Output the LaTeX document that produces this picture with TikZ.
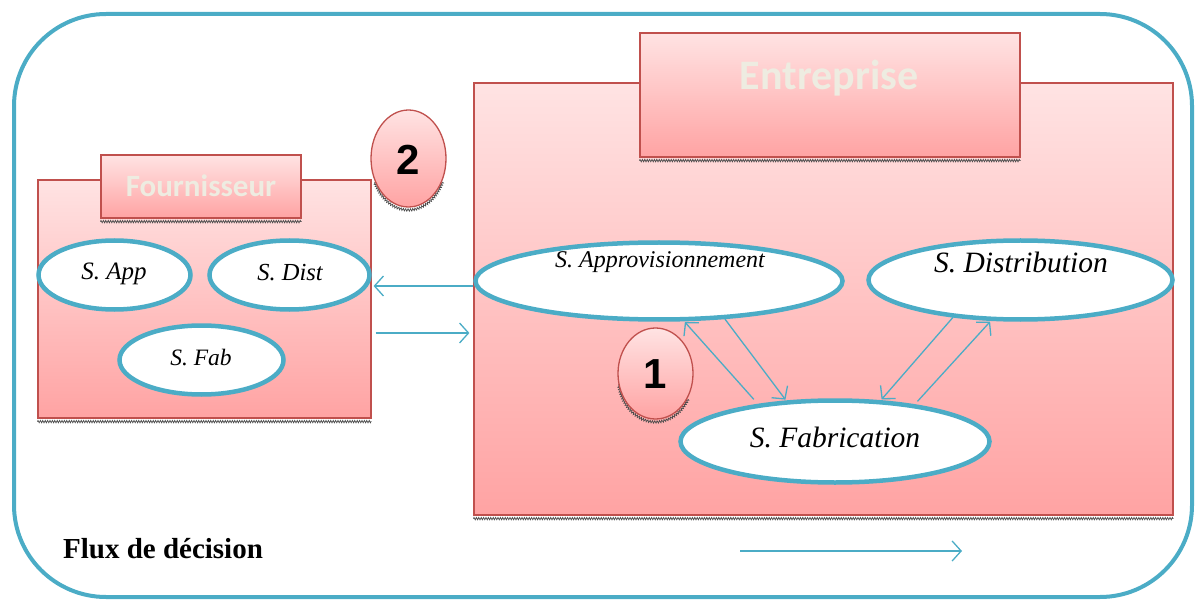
\documentclass[tikz,border=0pt]{standalone}
\usepackage{fontspec}
\setmainfont{Liberation Serif}
\newfontfamily\titlefont{Carlito}
\newfontfamily\numfont{Liberation Sans}
\usetikzlibrary{arrows.meta,decorations.pathmorphing,shapes.geometric}

\definecolor{flowblue}{HTML}{4BACC6}
\definecolor{boxred}{HTML}{C0504D}
\definecolor{pinktop}{HTML}{FFE3E3}
\definecolor{pinkbot}{HTML}{FFA3A3}
\definecolor{titletext}{HTML}{EEECE1}

\tikzset{
  panel/.style={rectangle, draw=boxred, line width=1.2pt, top color=pinktop,
    bottom color=pinkbot, inner sep=0pt},
  service/.style={ellipse, draw=flowblue, line width=4.5pt, fill=white, inner sep=0pt},
  badge/.style={ellipse, draw=boxred, line width=1.3pt, top color=pinktop,
    bottom color=pinkbot, inner sep=0pt},
  flow/.style={draw=flowblue, line width=1.3pt,
    -{Straight Barb[length=9pt,width=20pt,line width=1.3pt]}},
  hatch/.style={draw=gray!60!black, line width=0.7pt, decorate,
    decoration={zigzag, amplitude=1.2pt, segment length=2.4pt}},
  titletxt/.style={text=titletext, font=\titlefont\bfseries},
  svc/.style={font=\itshape},
}

\begin{document}
\begin{tikzpicture}[x=1pt,y=-1pt]
\useasboundingbox (0,0) rectangle (1198,601);

% outer frame
\draw[flowblue, line width=4pt, rounded corners=92pt] (14,14) rectangle (1192,597);

% ---------- Fournisseur ----------
\node[panel, minimum width=333pt, minimum height=238pt] (four) at (204.5,299) {};
\draw[hatch] ([yshift=-3pt]four.south west) -- ([yshift=-3pt]four.south east);
\node[panel, minimum width=200pt, minimum height=63pt] (fourtitle) at (201,186.5) {};
\draw[hatch] ([yshift=-3pt]fourtitle.south west) -- ([yshift=-3pt]fourtitle.south east);
\node[titletxt, font=\titlefont\bfseries\fontsize{31}{36}\selectfont] (fourlabel) at (201,186) {Fournisseur};

\node[service, minimum width=152pt, minimum height=69pt] (sapp) at (114.5,275) {};
\node[svc, font=\itshape\fontsize{25}{30}\selectfont] (sapplabel) at (114,274) {S. App};
\node[service, minimum width=160pt, minimum height=69pt] (sdist) at (289.5,275) {};
\node[svc, font=\itshape\fontsize{24.5}{30}\selectfont] (sdistlabel) at (290,273) {S. Dist};
\node[service, minimum width=164pt, minimum height=69pt] (sfab) at (201.5,360) {};
\node[svc, font=\itshape\fontsize{23.5}{28}\selectfont] (sfablabel) at (201,358) {S. Fab};

% badge 2
\draw[hatch, shift={(408.5,161.5)}] (25:37.5 and 48.5) arc[start angle=25, end angle=155, x radius=37.5, y radius=48.5];
\node[badge, minimum width=75pt, minimum height=97pt] (b2) at (408.5,158.5) {};
\node[font=\numfont\bfseries\fontsize{42}{48}\selectfont] (b2label) at (408,160) {2};

% ---------- Entreprise ----------
\node[panel, minimum width=699pt, minimum height=432pt] (ent) at (823.5,299) {};
\draw[hatch] ([yshift=-3pt]ent.south west) -- ([yshift=-3pt]ent.south east);
\node[panel, minimum width=380pt, minimum height=124pt] (enttitle) at (830,95) {};
\draw[hatch] ([yshift=-3pt]enttitle.south west) -- ([yshift=-3pt]enttitle.south east);
\node[titletxt, font=\titlefont\bfseries\fontsize{42}{48}\selectfont] (entlabel) at (829,78) {Entreprise};

\node[service, minimum width=367pt, minimum height=77pt] (approv) at (659,281) {};
\node[svc, font=\itshape\fontsize{24}{28}\selectfont] (approvlabel) at (660,262) {S. Approvisionnement};
\node[service, minimum width=304pt, minimum height=79pt] (distr) at (1020.5,280) {};
\node[svc, font=\itshape\fontsize{29.5}{34}\selectfont] (distrlabel) at (1021,262) {S. Distribution};
\node[service, minimum width=309pt, minimum height=82pt] (fabr) at (835,441.5) {};
\node[svc, font=\itshape\fontsize{29.5}{34}\selectfont] (fabrlabel) at (835,437) {S. Fabrication};

% badge 1
\draw[hatch, shift={(655.5,376.5)}] (30:37.5 and 45.5) arc[start angle=30, end angle=170, x radius=37.5, y radius=45.5];
\node[badge, minimum width=75pt, minimum height=91pt] (b1) at (655.5,373.5) {};
\node[font=\numfont\bfseries\fontsize{42}{48}\selectfont] (b1label) at (655,374) {1};

% ---------- flows ----------
\draw[flow, shorten >=2pt] ([yshift=13pt]ent.west) -- ([yshift=13pt]four.east);
\draw[flow, shorten <=4pt, shorten >=4pt] ([yshift=-34pt]four.east) -- ([yshift=-34pt]ent.west);

\draw[flow, shorten <=6pt, shorten >=1pt] (fabr.154.6) -- (approv.-58.4);
\draw[flow, shorten >=1pt] (approv.-30.4) -- (fabr.140);
\draw[flow, shorten >=1pt] (distr.-151.1) -- (fabr.42.8);
\draw[flow, shorten <=4pt, shorten >=1pt] (fabr.25) -- (distr.-126.1);

% legend
\node[font=\bfseries\fontsize{29}{34}\selectfont] (legend) at (163,549) {Flux de décision};
\coordinate (legfrom) at (740,551);
\coordinate (legto) at (962,551);
\draw[flow] (legfrom) -- (legto);
\end{tikzpicture}
\end{document}
